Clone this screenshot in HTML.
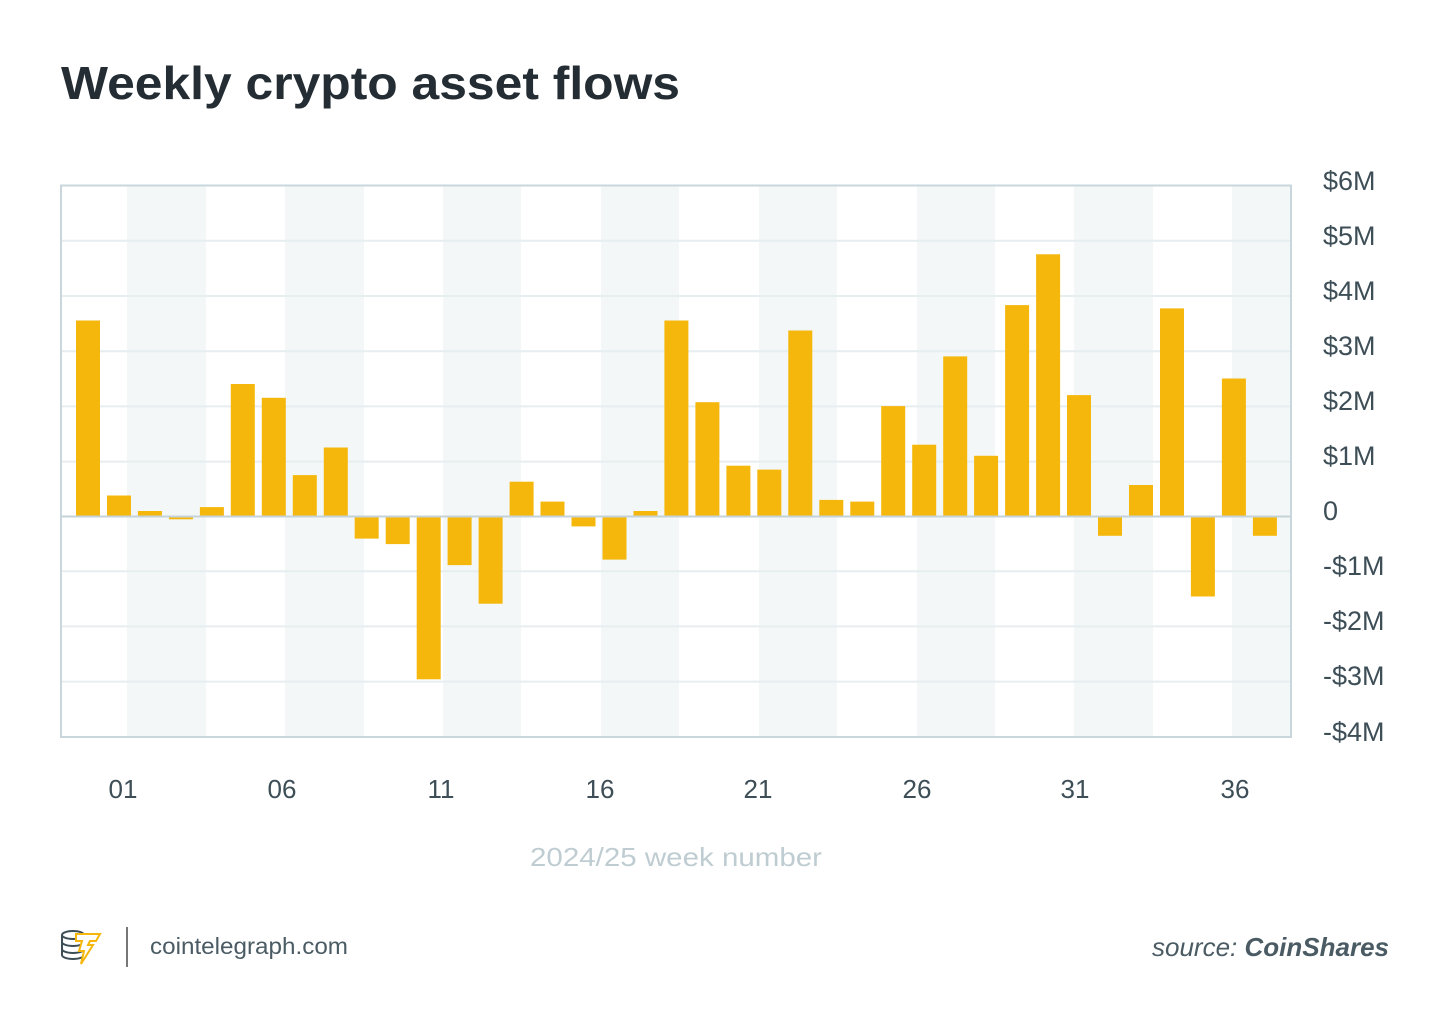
<!DOCTYPE html>
<html><head><meta charset="utf-8"><style>
body{margin:0;background:#fff;width:1450px;height:1027px;overflow:hidden;font-family:"Liberation Sans",sans-serif}
</style></head><body>
<svg width="1450" height="1027" xmlns="http://www.w3.org/2000/svg" id="s">
<text x="61" y="99" font-size="46" font-weight="bold" fill="#232d33" textLength="619" lengthAdjust="spacingAndGlyphs" font-family="Liberation Sans, sans-serif">Weekly crypto asset flows</text>
<g id="bands" fill="#f3f7f8">
<rect x="127" y="186" width="79" height="551"/>
<rect x="285" y="186" width="79" height="551"/>
<rect x="443" y="186" width="78" height="551"/>
<rect x="601" y="186" width="78" height="551"/>
<rect x="759" y="186" width="78" height="551"/>
<rect x="917" y="186" width="78" height="551"/>
<rect x="1074" y="186" width="79" height="551"/>
<rect x="1232" y="186" width="59" height="551"/>
</g>
<g stroke="#e6eef0" stroke-width="2">
<line x1="61" x2="1291" y1="240.8" y2="240.8"/>
<line x1="61" x2="1291" y1="296" y2="296"/>
<line x1="61" x2="1291" y1="351.2" y2="351.2"/>
<line x1="61" x2="1291" y1="406.4" y2="406.4"/>
<line x1="61" x2="1291" y1="461.6" y2="461.6"/>
<line x1="61" x2="1291" y1="571.2" y2="571.2"/>
<line x1="61" x2="1291" y1="626.4" y2="626.4"/>
<line x1="61" x2="1291" y1="681.6" y2="681.6"/>
</g>
<g id="bars" fill="#f5b70c"></g>
<line x1="61" x2="1291" y1="516.5" y2="516.5" stroke="#c5d3d8" stroke-width="2"/>
<rect x="61" y="185.5" width="1230" height="551.5" fill="none" stroke="#c9d7dc" stroke-width="2"/>
<g font-size="27" fill="#3d4e57" font-family="Liberation Sans, sans-serif">
<text x="1323" y="190">$6M</text>
<text x="1323" y="245">$5M</text>
<text x="1323" y="300">$4M</text>
<text x="1323" y="355">$3M</text>
<text x="1323" y="410">$2M</text>
<text x="1323" y="465">$1M</text>
<text x="1323" y="520">0</text>
<text x="1323" y="575">-$1M</text>
<text x="1323" y="630">-$2M</text>
<text x="1323" y="685">-$3M</text>
<text x="1323" y="741">-$4M</text>
</g>
<g font-size="26" fill="#3d4e57" text-anchor="middle" font-family="Liberation Sans, sans-serif">
<text x="123" y="798">01</text>
<text x="282" y="798">06</text>
<text x="441" y="798">11</text>
<text x="600" y="798">16</text>
<text x="758" y="798">21</text>
<text x="917" y="798">26</text>
<text x="1075" y="798">31</text>
<text x="1235" y="798">36</text>
</g>
<text x="530" y="866" font-size="26" fill="#bfcdd2" textLength="292" lengthAdjust="spacingAndGlyphs" font-family="Liberation Sans, sans-serif">2024/25 week number</text>
<g fill="none" stroke="#3d4e57" stroke-width="2">
<ellipse cx="73" cy="935" rx="11" ry="4"/>
<path d="M62 935v20a11 4 0 0 0 22 0v-20M62 942a11 4 0 0 0 22 0M62 949a11 4 0 0 0 22 0"/>
</g>
<path d="M76 934h24l-4 7h-6l-2 4h5l-12 19 3-13h-5l3-10h-6z" fill="#fff" stroke="#f5b70c" stroke-width="2"/>
<line x1="127" y1="927" x2="127" y2="967" stroke="#777" stroke-width="2"/>
<text x="150" y="954" font-size="23" fill="#4a5b64" textLength="198" lengthAdjust="spacingAndGlyphs" font-family="Liberation Sans, sans-serif">cointelegraph.com</text>
<text x="1389" y="956" font-size="26" text-anchor="end" fill="#4a5b64" font-style="italic" font-family="Liberation Sans, sans-serif">source: <tspan font-weight="bold">CoinShares</tspan></text>
</svg>
<script>
var v=[3.55,0.38,0.1,-0.05,0.17,2.4,2.15,0.75,1.25,-0.4,-0.5,-2.95,-0.88,-1.58,0.63,0.27,-0.18,-0.78,0.1,3.55,2.07,0.92,0.85,3.37,0.3,0.27,2.0,1.3,2.9,1.1,3.83,4.75,2.2,-0.35,0.57,3.77,-1.45,2.5,-0.35];
var g=document.getElementById('bars'),z=516.5,k=55.2,h='';
v.forEach(function(d,i){var x=76+i*30.97,hh=Math.abs(d)*k;var y=d>=0?z-hh:z;
h+='<rect x="'+x.toFixed(1)+'" y="'+y.toFixed(1)+'" width="24" height="'+hh.toFixed(1)+'"/>';});
g.innerHTML=h;
</script>
</body></html>
